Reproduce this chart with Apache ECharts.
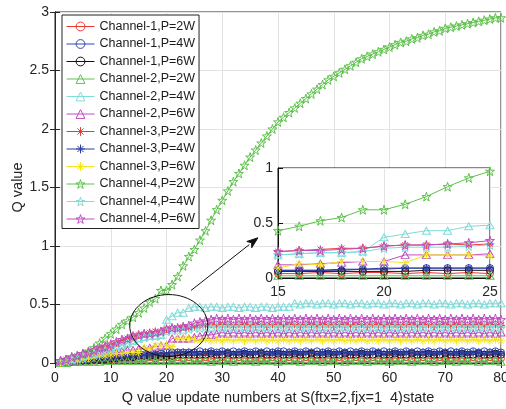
<!DOCTYPE html>
<html><head><meta charset="utf-8">
<script src="https://cdn.jsdelivr.net/npm/echarts@6/dist/echarts.min.js"></script>
<style>html,body{margin:0;padding:0;background:#fff}#c{width:506px;height:409px}</style>
</head><body><div id="c"></div>
<script>
// x positions (update numbers)
const xs = [1,2,3,4,5,6,7,8,9,10,11,12,13,14,15,16,17,18,19,20,21,22,23,24,25,26,27,28,29,30,
31,32,33,34,35,36,37,38,39,40,41,42,43,44,45,46,47,48,49,50,51,52,53,54,55,56,57,58,59,60,
61,62,63,64,65,66,67,68,69,70,71,72,73,74,75,76,77,78,79,80];

const seriesNames = ['Channel-1,P=2W','Channel-1,P=4W','Channel-1,P=6W','Channel-2,P=2W','Channel-2,P=4W','Channel-2,P=6W',
'Channel-3,P=2W','Channel-3,P=4W','Channel-3,P=6W','Channel-4,P=2W','Channel-4,P=4W','Channel-4,P=6W'];

const c1p2 = [0.00,0.01,0.01,0.01,0.02,0.02,0.02,0.03,0.03,0.03,
0.03,0.04,0.04,0.04,0.04,0.04,0.05,0.04,0.05,0.05,
0.04,0.05,0.04,0.05,0.04,0.04,0.05,0.04,0.04,0.05,
0.04,0.04,0.05,0.04,0.04,0.05,0.04,0.04,0.05,0.04,
0.04,0.05,0.04,0.04,0.05,0.04,0.04,0.05,0.04,0.04,
0.05,0.04,0.04,0.05,0.04,0.04,0.05,0.04,0.04,0.05,
0.04,0.04,0.05,0.04,0.04,0.05,0.04,0.04,0.05,0.04,
0.04,0.05,0.04,0.04,0.05,0.04,0.04,0.05,0.04,0.04];

const c1p4 = [0.00,0.01,0.01,0.02,0.02,0.03,0.03,0.04,0.04,0.05,
0.05,0.06,0.06,0.06,0.07,0.07,0.07,0.07,0.08,0.09,
0.09,0.09,0.09,0.09,0.09,0.10,0.09,0.10,0.09,0.10,
0.09,0.10,0.09,0.10,0.09,0.10,0.09,0.10,0.09,0.10,
0.10,0.09,0.10,0.09,0.10,0.09,0.10,0.09,0.10,0.09,
0.10,0.09,0.10,0.09,0.10,0.09,0.10,0.09,0.10,0.09,
0.10,0.09,0.10,0.09,0.10,0.09,0.10,0.09,0.10,0.09,
0.10,0.09,0.10,0.09,0.10,0.09,0.10,0.09,0.10,0.09];

const c1p6 = [0.00,0.01,0.01,0.01,0.02,0.02,0.03,0.03,0.03,0.04,
0.04,0.05,0.05,0.05,0.06,0.06,0.06,0.06,0.06,0.06,
0.06,0.07,0.07,0.07,0.07,0.07,0.07,0.08,0.07,0.07,
0.08,0.07,0.07,0.08,0.07,0.07,0.08,0.07,0.07,0.08,
0.07,0.07,0.08,0.07,0.07,0.08,0.07,0.07,0.08,0.07,
0.07,0.08,0.07,0.07,0.08,0.07,0.07,0.08,0.07,0.07,
0.08,0.07,0.07,0.08,0.07,0.07,0.08,0.07,0.07,0.08,
0.07,0.07,0.08,0.07,0.07,0.08,0.07,0.07,0.08,0.07];

const c2p2 = [0.00,0.00,0.01,0.01,0.01,0.01,0.01,0.01,0.02,0.02,
0.02,0.02,0.02,0.02,0.02,0.02,0.02,0.02,0.02,0.02,
0.02,0.02,0.02,0.02,0.02,0.02,0.02,0.01,0.02,0.02,
0.02,0.01,0.02,0.02,0.02,0.01,0.02,0.02,0.02,0.01,
0.02,0.02,0.02,0.01,0.02,0.02,0.02,0.01,0.02,0.02,
0.02,0.01,0.02,0.02,0.02,0.01,0.02,0.02,0.02,0.01,
0.02,0.02,0.02,0.01,0.02,0.02,0.02,0.01,0.02,0.02,
0.02,0.01,0.02,0.02,0.02,0.01,0.02,0.02,0.02,0.01];

const c2p4 = [0.01,0.02,0.03,0.04,0.05,0.06,0.08,0.09,0.11,0.12,
0.14,0.15,0.17,0.19,0.21,0.22,0.23,0.23,0.24,0.37,
0.40,0.43,0.43,0.47,0.48,0.48,0.47,0.48,0.48,0.47,
0.48,0.48,0.47,0.48,0.48,0.47,0.48,0.48,0.47,0.48,
0.48,0.48,0.51,0.50,0.51,0.51,0.50,0.51,0.51,0.50,
0.51,0.51,0.50,0.51,0.51,0.50,0.51,0.51,0.50,0.51,
0.51,0.50,0.51,0.51,0.50,0.51,0.51,0.50,0.51,0.51,
0.50,0.51,0.51,0.50,0.51,0.51,0.50,0.51,0.51,0.51];

const c2p6 = [0.01,0.02,0.03,0.04,0.05,0.06,0.06,0.07,0.08,0.09,
0.09,0.10,0.11,0.11,0.12,0.12,0.13,0.14,0.15,0.15,
0.21,0.21,0.21,0.21,0.22,0.23,0.24,0.24,0.25,0.26,
0.25,0.26,0.25,0.26,0.25,0.26,0.25,0.26,0.25,0.26,
0.25,0.26,0.25,0.26,0.25,0.26,0.25,0.26,0.25,0.26,
0.25,0.26,0.25,0.26,0.25,0.26,0.25,0.26,0.25,0.26,
0.25,0.26,0.25,0.26,0.25,0.26,0.25,0.26,0.25,0.26,
0.25,0.26,0.25,0.26,0.25,0.26,0.25,0.26,0.25,0.26];

const c3p2 = [0.01,0.03,0.04,0.06,0.07,0.09,0.10,0.12,0.14,0.15,
0.17,0.19,0.21,0.22,0.24,0.25,0.26,0.27,0.27,0.29,
0.30,0.30,0.31,0.30,0.31,0.32,0.32,0.33,0.32,0.33,
0.33,0.32,0.33,0.33,0.32,0.33,0.33,0.32,0.33,0.33,
0.32,0.33,0.33,0.32,0.33,0.33,0.32,0.33,0.33,0.32,
0.33,0.33,0.32,0.33,0.33,0.32,0.33,0.33,0.32,0.33,
0.33,0.32,0.33,0.33,0.32,0.33,0.33,0.32,0.33,0.33,
0.32,0.33,0.33,0.32,0.33,0.33,0.32,0.33,0.33,0.32];

const c3p4 = [0.00,0.01,0.01,0.02,0.02,0.03,0.03,0.04,0.04,0.05,
0.05,0.05,0.06,0.06,0.07,0.07,0.07,0.08,0.08,0.08,
0.09,0.09,0.09,0.09,0.09,0.08,0.09,0.09,0.08,0.09,
0.09,0.08,0.09,0.09,0.08,0.09,0.09,0.08,0.09,0.09,
0.08,0.09,0.09,0.08,0.09,0.09,0.08,0.09,0.09,0.08,
0.09,0.09,0.08,0.09,0.09,0.08,0.09,0.09,0.08,0.09,
0.09,0.08,0.09,0.09,0.08,0.09,0.09,0.08,0.09,0.09,
0.08,0.09,0.09,0.08,0.09,0.09,0.08,0.09,0.09,0.08];

const c3p6 = [0.00,0.01,0.02,0.02,0.03,0.04,0.05,0.06,0.06,0.07,
0.08,0.08,0.09,0.09,0.09,0.13,0.12,0.15,0.15,0.15,
0.14,0.21,0.21,0.21,0.20,0.19,0.20,0.19,0.20,0.19,
0.20,0.19,0.20,0.19,0.20,0.19,0.20,0.19,0.20,0.19,
0.20,0.19,0.20,0.19,0.20,0.19,0.20,0.19,0.20,0.19,
0.20,0.19,0.20,0.19,0.20,0.19,0.20,0.19,0.20,0.19,
0.20,0.19,0.20,0.19,0.20,0.19,0.20,0.19,0.20,0.19,
0.20,0.19,0.20,0.19,0.20,0.19,0.20,0.19,0.20,0.19];

const c4p2 = [0.02,0.03,0.05,0.06,0.08,0.10,0.13,0.17,0.21,0.25,
0.29,0.33,0.36,0.39,0.43,0.47,0.52,0.55,0.62,0.62,
0.67,0.74,0.83,0.91,0.97,1.05,1.13,1.22,1.31,1.39,
1.47,1.55,1.62,1.69,1.76,1.82,1.88,1.94,2.00,2.06,
2.10,2.14,2.18,2.22,2.26,2.30,2.34,2.38,2.42,2.45,
2.48,2.51,2.54,2.57,2.60,2.62,2.64,2.66,2.68,2.70,
2.72,2.74,2.75,2.77,2.78,2.80,2.81,2.83,2.84,2.86,
2.87,2.88,2.89,2.90,2.91,2.92,2.93,2.94,2.95,2.95];

const c4p4 = [0.01,0.02,0.03,0.04,0.05,0.07,0.08,0.09,0.11,0.12,
0.14,0.15,0.17,0.19,0.21,0.22,0.23,0.23,0.24,0.27,
0.28,0.28,0.28,0.29,0.30,0.30,0.31,0.30,0.31,0.30,
0.31,0.30,0.31,0.30,0.31,0.30,0.31,0.30,0.31,0.30,
0.31,0.30,0.31,0.30,0.31,0.30,0.31,0.30,0.31,0.30,
0.31,0.30,0.31,0.30,0.31,0.30,0.31,0.30,0.31,0.30,
0.31,0.30,0.31,0.30,0.31,0.30,0.31,0.30,0.31,0.30,
0.31,0.30,0.31,0.30,0.31,0.30,0.31,0.30,0.31,0.30];

const c4p6 = [0.02,0.03,0.05,0.06,0.08,0.09,0.11,0.13,0.14,0.16,
0.18,0.20,0.21,0.23,0.24,0.25,0.25,0.26,0.27,0.29,
0.30,0.30,0.31,0.32,0.34,0.35,0.36,0.37,0.38,0.37,
0.38,0.37,0.38,0.37,0.38,0.37,0.38,0.37,0.38,0.37,
0.38,0.37,0.38,0.37,0.38,0.37,0.38,0.37,0.38,0.37,
0.38,0.37,0.38,0.37,0.38,0.37,0.38,0.37,0.38,0.37,
0.38,0.37,0.38,0.37,0.38,0.37,0.38,0.37,0.38,0.37,
0.38,0.37,0.38,0.37,0.38,0.37,0.38,0.37,0.38,0.37];

const seriesValues = [c1p2,c1p4,c1p6,c2p2,c2p4,c2p6,c3p2,c3p4,c3p6,c4p2,c4p4,c4p6];
const mainYTicks = [0,0.5,1,1.5,2,2.5,3];
const mainXTicks = [0,10,20,30,40,50,60,70,80];
const insetXTicks = [15,20,25];
const insetYTicks = [0,0.5,1];

// styles
const colors = ['#ec3a34','#3546b0','#111111','#5cc24a','#7fdcd8','#c04cc4',
                '#ec3a34','#2c3c9c','#f2e526','#5cc24a','#7fdcd8','#c04cc4'];
const CIRCLE = 'circle';
const TRI = 'path://M0,-1 L0.866,0.5 L-0.866,0.5 Z';
const AST = 'path://M0,-1 L0,1 M-1,0 L1,0 M-0.7,-0.7 L0.7,0.7 M-0.7,0.7 L0.7,-0.7';
const STAR = 'path://M0,-1 L0.2245,-0.309 L0.951,-0.309 L0.363,0.118 L0.588,0.809 L0,0.382 L-0.588,0.809 L-0.363,0.118 L-0.951,-0.309 L-0.2245,-0.309 Z';
const symbols = [CIRCLE,CIRCLE,CIRCLE,TRI,TRI,TRI,AST,AST,AST,STAR,STAR,STAR];
const sizes = [[7,7],[7,7],[7,7],[8,7],[8,7],[8,7],[8,8],[8,8],[8,8],[9,9],[9,9],[9,9]];

const FONT = 'Liberation Sans, Arial, Helvetica, sans-serif';
const TXT = '#262626';

function mkSeries(i, gi, xFrom, xTo) {
  const data = [];
  for (let k = 0; k < xs.length; k++) {
    if (xs[k] >= xFrom && xs[k] <= xTo) data.push([xs[k], seriesValues[i][k]]);
  }
  return {
    type: 'line', name: seriesNames[i], xAxisIndex: gi === 0 ? 0 : 2, yAxisIndex: gi === 0 ? 0 : 2,
    data: data, symbol: symbols[i], symbolSize: sizes[i], showSymbol: true, showAllSymbol: true,
    lineStyle: {color: colors[i], width: 1},
    itemStyle: {color: 'rgba(0,0,0,0)', borderColor: colors[i], borderWidth: 1},
    emphasis: {disabled: true}, silent: true, animation: false,
    z: gi === 0 ? 2 : 8, clip: true
  };
}

const series = [];
for (let i = 0; i < 12; i++) series.push(mkSeries(i, 0, 0, 80));
for (let i = 0; i < 12; i++) series.push(mkSeries(i, 1, 15, 25));

const gridColor = '#e3e3e3';
const option = {
  animation: false,
  backgroundColor: '#fff',
  textStyle: {fontFamily: FONT},
  grid: [
    {left: 55, right: 5, top: 12, bottom: 46, outerBoundsMode: 'none', containLabel: false,
     show: true, borderColor: '#262626', borderWidth: 1, backgroundColor: 'transparent', z: 0},
    {left: 278, right: 16, top: 168, bottom: 131, outerBoundsMode: 'none', containLabel: false,
     show: true, borderColor: '#111', borderWidth: 1, backgroundColor: '#fff', z: 6}
  ],
  xAxis: [
    {gridIndex: 0, type: 'value', min: 0, max: 80, interval: 10, position: 'bottom',
     axisLine: {show: true, lineStyle: {color: '#262626'}}, axisTick: {inside: true, length: 5, lineStyle: {color: '#262626'}},
     axisLabel: {fontSize: 14, color: TXT, margin: 8, fontFamily: FONT, formatter: v => mainXTicks.indexOf(v) >= 0 ? String(v) : ''},
     splitLine: {show: true, lineStyle: {color: gridColor}},
     name: 'Q value update numbers at S(ftx=2,fjx=1  4)state', nameLocation: 'middle', nameGap: 27, nameMoveOverlap: false,
     nameTextStyle: {fontSize: 14.5, color: TXT, fontFamily: FONT}},
    {gridIndex: 0, type: 'value', min: 0, max: 80, interval: 10, position: 'top',
     axisLine: {show: true, lineStyle: {color: '#262626'}}, axisTick: {inside: true, length: 5, lineStyle: {color: '#262626'}},
     axisLabel: {show: false}, splitLine: {show: false}},
    {gridIndex: 1, type: 'value', min: 15, max: 25, interval: 5, position: 'bottom', z: 7,
     axisLine: {show: true, lineStyle: {color: '#111'}}, axisTick: {inside: true, length: 5, lineStyle: {color: '#111'}},
     axisLabel: {fontSize: 14, color: TXT, margin: 7, fontFamily: FONT, formatter: v => insetXTicks.indexOf(v) >= 0 ? String(v) : ''},
     splitLine: {show: true, lineStyle: {color: gridColor}}}
  ],
  yAxis: [
    {gridIndex: 0, type: 'value', min: 0, max: 3, interval: 0.5, position: 'left',
     axisLine: {show: true, lineStyle: {color: '#262626'}}, axisTick: {inside: true, length: 5, lineStyle: {color: '#262626'}},
     axisLabel: {fontSize: 14, color: TXT, margin: 6, fontFamily: FONT, formatter: v => mainYTicks.indexOf(v) >= 0 ? String(v) : ''},
     splitLine: {show: true, lineStyle: {color: gridColor}},
     name: 'Q value', nameLocation: 'middle', nameGap: 30, nameRotate: 90, nameMoveOverlap: false,
     nameTextStyle: {fontSize: 14.5, color: TXT, fontFamily: FONT}},
    {gridIndex: 0, type: 'value', min: 0, max: 3, interval: 0.5, position: 'right',
     axisLine: {show: true, lineStyle: {color: '#262626'}}, axisTick: {inside: true, length: 5, lineStyle: {color: '#262626'}},
     axisLabel: {show: false}, splitLine: {show: false}},
    {gridIndex: 1, type: 'value', min: 0, max: 1, interval: 0.5, position: 'left', z: 7,
     axisLine: {show: true, lineStyle: {color: '#111'}}, axisTick: {inside: true, length: 5, lineStyle: {color: '#111'}},
     axisLabel: {fontSize: 14, color: TXT, margin: 5, fontFamily: FONT, formatter: v => insetYTicks.indexOf(v) >= 0 ? String(v) : ''},
     splitLine: {show: true, lineStyle: {color: gridColor}}}
  ],
  legend: {
    data: seriesNames, orient: 'vertical', left: 62, top: 15, z: 5,
    backgroundColor: '#fff', borderColor: '#222', borderWidth: 1, padding: [5, 4, 3, 4],
    itemWidth: 28, itemHeight: 11, itemGap: 4.5, selectedMode: false,
    itemStyle: {borderWidth: 1}, lineStyle: {width: 1},
    textStyle: {fontSize: 12.5, color: '#1a1a1a', fontFamily: FONT}
  },
  series: series
};

const chart = echarts.init(document.getElementById('c'), null, {renderer: 'canvas'});
chart.setOption(option);

// annotation: ellipse around the zoomed region and arrow to the inset
const ellC = chart.convertToPixel({gridIndex: 0}, [20.4, 0.32]);
const ellR = chart.convertToPixel({gridIndex: 0}, [27.4, 0.585]);
const a0 = chart.convertToPixel({gridIndex: 0}, [24.4, 0.62]);
const a1 = chart.convertToPixel({gridIndex: 0}, [36.4, 1.07]);
const dx = a1[0] - a0[0], dy = a1[1] - a0[1];
const L = Math.sqrt(dx * dx + dy * dy), ux = dx / L, uy = dy / L;
const hl = 11, hw = 4;
const base = [a1[0] - ux * hl, a1[1] - uy * hl];
chart.setOption({
  graphic: [
    {type: 'ellipse', z: 20, silent: true,
     shape: {cx: ellC[0], cy: ellC[1], rx: ellR[0] - ellC[0], ry: ellC[1] - ellR[1]},
     style: {fill: 'none', stroke: '#111', lineWidth: 1}},
    {type: 'line', z: 20, silent: true,
     shape: {x1: a0[0], y1: a0[1], x2: base[0], y2: base[1]},
     style: {stroke: '#111', lineWidth: 1}},
    {type: 'polygon', z: 20, silent: true,
     shape: {points: [a1, [base[0] - uy * hw, base[1] + ux * hw], [base[0] + ux * 3, base[1] + uy * 3], [base[0] + uy * hw, base[1] - ux * hw]]},
     style: {fill: '#111', stroke: '#111', lineWidth: 1}}
  ]
});
</script>
</body></html>
